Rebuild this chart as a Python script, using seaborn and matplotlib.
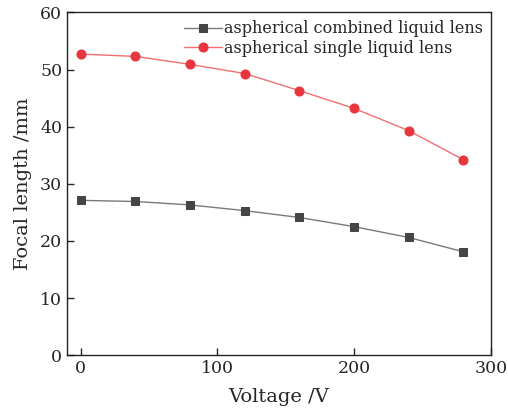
import pandas as pd
import seaborn as sns
import matplotlib.pyplot as plt

# data
voltage = [0, 40, 80, 120, 160, 200, 240, 280]
combined = [27.1, 26.9, 26.3, 25.3, 24.1, 22.5, 20.6, 18.1]
single = [52.7, 52.3, 50.9, 49.3, 46.3, 43.2, 39.3, 34.2]
labels = ["aspherical combined liquid lens", "aspherical single liquid lens"]

df = pd.DataFrame({
    "Voltage": voltage * 2,
    "Focal": combined + single,
    "Lens": [labels[0]] * len(voltage) + [labels[1]] * len(voltage),
})

sns.set_style("ticks")
plt.rcParams['font.family'] = ['DejaVu Serif']

fig, ax = plt.subplots(figsize=(5.08, 4.13), dpi=100)

line_cols = {labels[0]: "#7a7a7a", labels[1]: "#f07070"}
mark_cols = {labels[0]: "#454545", labels[1]: "#e8343c"}
markers = {labels[0]: "s", labels[1]: "o"}
msize = {labels[0]: 5.5, labels[1]: 6.5}

sns.lineplot(data=df, x="Voltage", y="Focal", hue="Lens", style="Lens",
             palette=line_cols, markers=markers, dashes=False,
             linewidth=1.0, markersize=6, ax=ax)
for line, lab in zip(ax.lines, labels):
    line.set_markerfacecolor(mark_cols[lab])
    line.set_markeredgecolor(mark_cols[lab])
    line.set_markersize(msize[lab])

ax.set_xlim(-10, 300)
ax.set_ylim(0, 60)
ax.set_xticks([0, 100, 200, 300])
ax.set_yticks([0, 10, 20, 30, 40, 50, 60])
ax.tick_params(direction="in", labelsize=12.5, length=5, width=1)
for s in ax.spines.values():
    s.set_linewidth(1.0)
    s.set_color("#222222")

ax.set_xlabel("Voltage /V", fontsize=14, labelpad=8)
ax.set_ylabel("Focal length /mm", fontsize=14, labelpad=6)

leg = ax.legend(loc="upper right", frameon=False, fontsize=11.5,
                handlelength=2.4, handletextpad=0.1, borderaxespad=0.1,
                labelspacing=0.15)
for h, lab in zip(leg.legend_handles, labels):
    h.set_markerfacecolor(mark_cols[lab])
    h.set_markeredgecolor(mark_cols[lab])
    h.set_markersize(msize[lab])

fig.subplots_adjust(left=0.132, right=0.966, top=0.97, bottom=0.14)
fig.savefig("out.png", dpi=100)
